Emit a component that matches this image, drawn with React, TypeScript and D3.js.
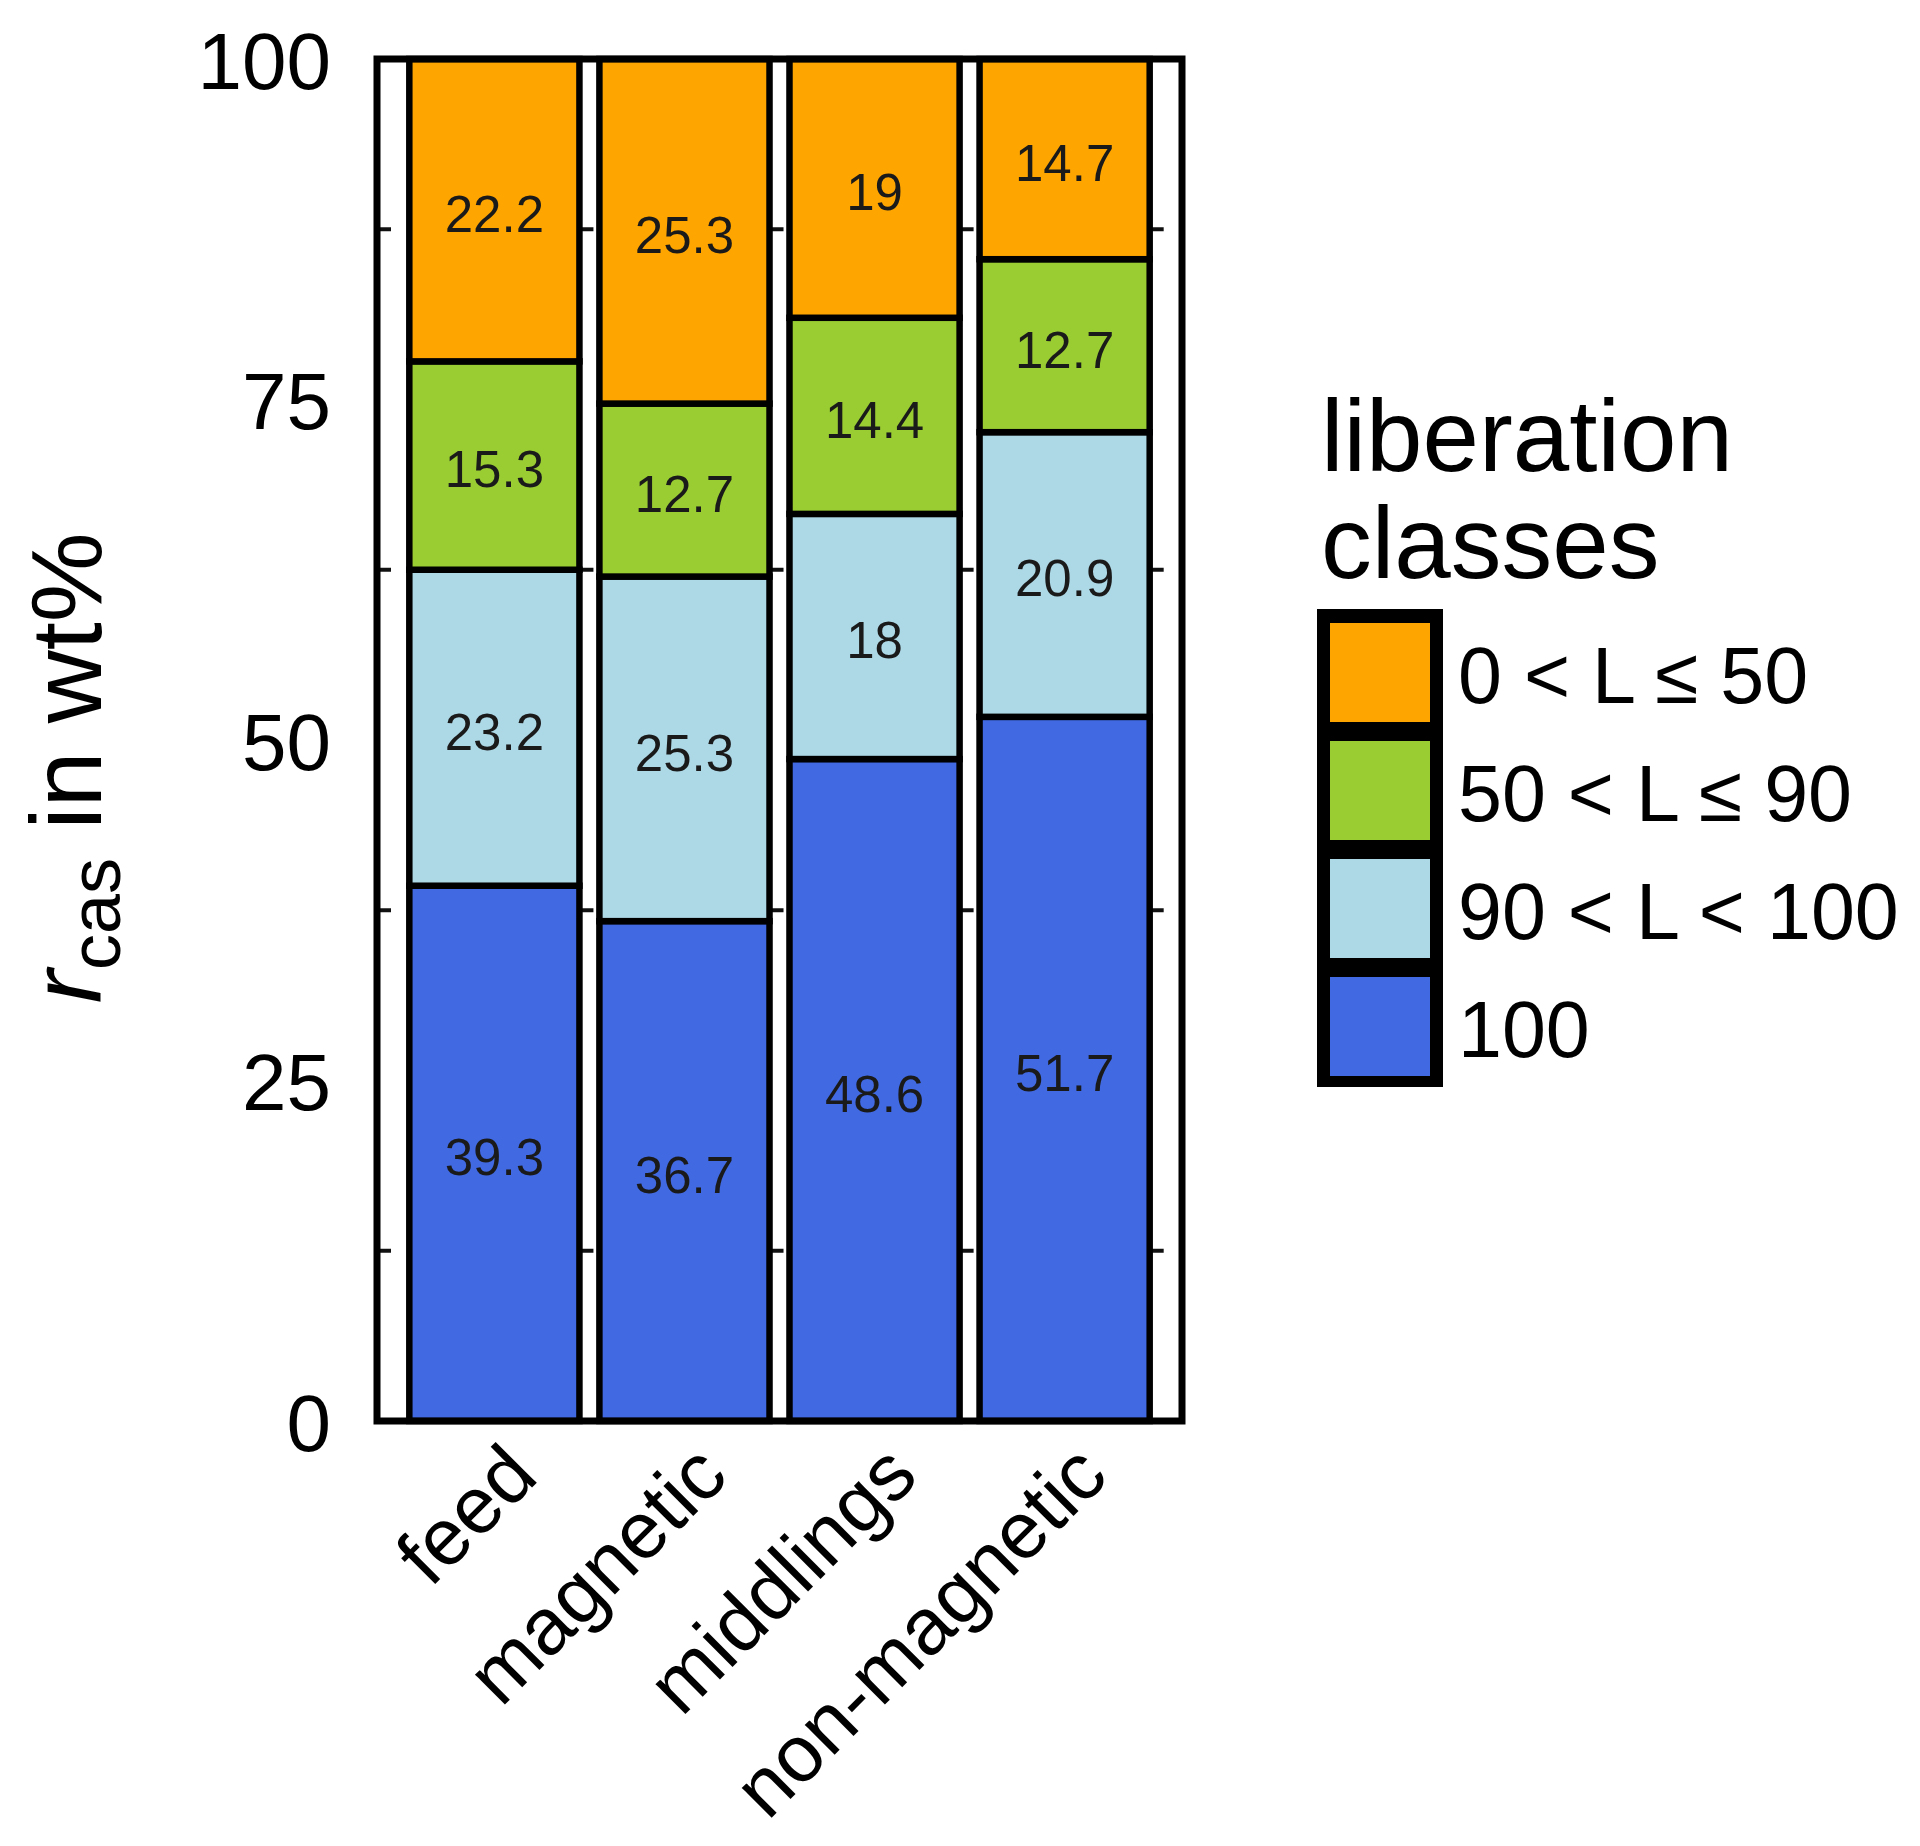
import React from 'react';
import * as d3 from 'd3';

const categories = ['feed', 'magnetic', 'middlings', 'non-magnetic'];
const seriesKeys = ['full', 'high', 'mid', 'low'];
const seriesNames = ['100', '90 < L < 100', '50 < L \u2264 90', '0 < L \u2264 50'];
const seriesColors = ['#4169E1', '#ADD8E6', '#9ACD32', '#FFA500'];
const fullValues = [39.3, 36.7, 48.6, 51.7];
const highValues = [23.2, 25.3, 18, 20.9];
const midValues = [15.3, 12.7, 14.4, 12.7];
const lowValues = [22.2, 25.3, 19, 14.7];
const yTicks = [0, 25, 50, 75, 100];
const yMinorTicks = [12.5, 37.5, 62.5, 87.5];
const legendTitle = ['liberation', 'classes'];

const FONT = '"Liberation Sans", Arial, Helvetica, sans-serif';

export default function App() {
  const W = 1920;
  const H = 1846;
  const frame = { left: 377, right: 1182, top: 59, bottom: 1421 };

  const rows = categories.map((c, i) => ({
    category: c,
    full: fullValues[i],
    high: highValues[i],
    mid: midValues[i],
    low: lowValues[i],
  }));
  const stacked = d3.stack<any>().keys(seriesKeys)(rows);

  const x = d3
    .scaleBand<string>()
    .domain(categories)
    .range([frame.left, frame.right])
    .paddingInner(0.105)
    .paddingOuter(0.17);
  const y = d3.scaleLinear().domain([0, 100]).range([frame.bottom, frame.top]);
  const bw = x.bandwidth();

  const legendOrder = [...seriesKeys].reverse();
  const ly = d3
    .scaleBand<string>()
    .domain(legendOrder)
    .range([613.5, 1085.5])
    .paddingInner(0.161)
    .paddingOuter(0.0805);

  return (
    <svg
      width={W}
      height={H}
      viewBox={`0 0 ${W} ${H}`}
      style={{ position: 'absolute', left: 0, top: 0, display: 'block', background: '#fff' }}
      fontFamily={FONT}
    >
      <rect x={0} y={0} width={W} height={H} fill="#fff" />

      {/* minor ticks */}
      <g stroke="#111" strokeWidth={4}>
        {yMinorTicks.map((t) => (
          <g key={t}>
            <line x1={frame.left} x2={frame.left + 14} y1={y(t)} y2={y(t)} />
            {categories.map((c) => (
              <line
                key={c}
                x1={(x(c) as number) + bw}
                x2={(x(c) as number) + bw + 14}
                y1={y(t)}
                y2={y(t)}
              />
            ))}
          </g>
        ))}
      </g>

      {/* bars */}
      {stacked.map((s, si) => (
        <g key={s.key} fill={seriesColors[si]} stroke="#000" strokeWidth={6.5}>
          {s.map((d, i) => (
            <rect
              key={categories[i]}
              x={x(categories[i]) as number}
              y={y(d[1])}
              width={bw}
              height={y(d[0]) - y(d[1])}
            />
          ))}
        </g>
      ))}

      {/* bar value labels */}
      {stacked.map((s) => (
        <g key={'lab' + s.key} fontSize={51} fill="#1a1a1a" textAnchor="middle">
          {s.map((d, i) => (
            <text
              key={categories[i]}
              x={(x(categories[i]) as number) + bw / 2}
              y={y((d[0] + d[1]) / 2)}
              dy="0.43em"
            >
              {String((rows[i] as any)[s.key])}
            </text>
          ))}
        </g>
      ))}

      {/* frame */}
      <rect
        x={frame.left}
        y={frame.top}
        width={frame.right - frame.left}
        height={frame.bottom - frame.top}
        fill="none"
        stroke="#000"
        strokeWidth={7}
      />

      {/* y tick labels */}
      <g fontSize={80} fill="#000" textAnchor="end">
        {yTicks.map((t) => (
          <text key={t} x={331} y={y(t)} dy="0.37em">
            {t}
          </text>
        ))}
      </g>

      {/* x labels */}
      <g fontSize={80} fill="#000" textAnchor="end">
        {categories.map((c) => (
          <text
            key={c}
            transform={`translate(${(x(c) as number) + bw / 2 + 46},${frame.bottom + 58}) rotate(-45)`}
          >
            {c}
          </text>
        ))}
      </g>

      {/* y axis title */}
      <text
        transform={`translate(101,768) rotate(-90)`}
        textAnchor="middle"
        fontSize={101}
        fill="#000"
      >
        <tspan fontStyle="italic">r</tspan>
        <tspan fontSize={72} dy={19}>cas</tspan>
        <tspan dy={-19}> in wt%</tspan>
      </text>

      {/* legend */}
      <g fontSize={101.5} fill="#000">
        {legendTitle.map((t, i) => (
          <text key={t} x={1321} y={471 + i * 107}>
            {t}
          </text>
        ))}
      </g>
      <rect x={1317} y={609} width={126} height={478} fill="#000" />
      {legendOrder.map((k) => {
        const si = seriesKeys.indexOf(k);
        return (
          <g key={k}>
            <rect
              x={1330}
              y={ly(k) as number}
              width={100}
              height={ly.bandwidth()}
              fill={seriesColors[si]}
            />
            <text
              x={1458}
              y={(ly(k) as number) + ly.bandwidth() / 2}
              dy="0.38em"
              fontSize={79}
              fill="#000"
            >
              {seriesNames[si]}
            </text>
          </g>
        );
      })}
    </svg>
  );
}
